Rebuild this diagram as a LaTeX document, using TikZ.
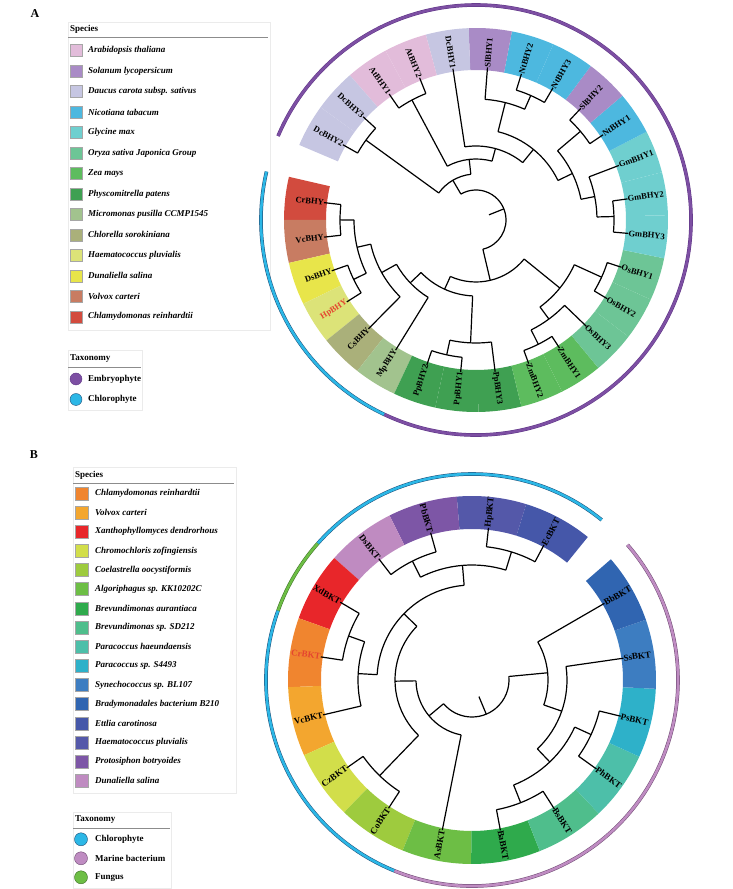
\documentclass[tikz,border=0pt]{standalone}
\usepackage{fontspec}
\setmainfont{Liberation Serif}

% species colours, tree A
\definecolor{araA}{HTML}{E2BCDA}
\definecolor{solA}{HTML}{A98BC6}
\definecolor{dauA}{HTML}{C6C6E2}
\definecolor{nicA}{HTML}{4DB8DF}
\definecolor{glyA}{HTML}{6FCFCF}
\definecolor{oryA}{HTML}{6DC596}
\definecolor{zeaA}{HTML}{5DBC5E}
\definecolor{phyA}{HTML}{3FA052}
\definecolor{micA}{HTML}{A2C38E}
\definecolor{cloA}{HTML}{AAB07A}
\definecolor{haeA}{HTML}{DCE378}
\definecolor{dunA}{HTML}{E8E54A}
\definecolor{volA}{HTML}{C87C62}
\definecolor{chlA}{HTML}{D24B3E}
\definecolor{embryo}{HTML}{7D4FA3}
\definecolor{embryoD}{HTML}{5E3585}
\definecolor{chloro}{HTML}{2CB7E6}
\definecolor{chloroD}{HTML}{1F4F78}
% species colours, tree B
\definecolor{chlB}{HTML}{F0852F}
\definecolor{volB}{HTML}{F3A62F}
\definecolor{xanB}{HTML}{E8262A}
\definecolor{chrB}{HTML}{D2DE4A}
\definecolor{coeB}{HTML}{9ECB3E}
\definecolor{algB}{HTML}{6DBE45}
\definecolor{bauB}{HTML}{2FAA4C}
\definecolor{bspB}{HTML}{4FBE8C}
\definecolor{phaB}{HTML}{4DBFA9}
\definecolor{pspB}{HTML}{2EB1C9}
\definecolor{synB}{HTML}{3D7DC1}
\definecolor{braB}{HTML}{3065B1}
\definecolor{ettB}{HTML}{4557A9}
\definecolor{haeB}{HTML}{5458A9}
\definecolor{proB}{HTML}{7D56A6}
\definecolor{dunB}{HTML}{BF8BC1}
\definecolor{marine}{HTML}{BF8CC2}
\definecolor{marineD}{HTML}{6E4A72}
\definecolor{fungus}{HTML}{6DBE45}
\definecolor{fungusD}{HTML}{3C6E25}
\definecolor{hired}{HTML}{E5452F}

\tikzset{
  branch/.style={line width=1.2pt, black},
  leaflabA/.style={font=\bfseries\fontsize{8.5}{9}\selectfont, inner sep=0pt},
  leaflabB/.style={font=\bfseries\fontsize{9}{10}\selectfont, inner sep=0pt},
  legframe/.style={draw=black!8, line width=0.5pt},
  legrule/.style={draw=black!45, line width=0.9pt},
  leghead/.style={font=\bfseries\fontsize{9}{10}\selectfont, anchor=west, inner sep=0pt},
  legsp/.style={font=\bfseries\itshape\fontsize{9}{10}\selectfont, anchor=west, inner sep=0pt},
  legtax/.style={font=\bfseries\fontsize{9}{10}\selectfont, anchor=west, inner sep=0pt},
  legsq/.style={draw=black!35, line width=0.4pt},
  taxarc/.style={line width=0.5pt, double distance=2.6pt},
}

% annular sector: from angle, to angle, inner r, outer r, colour
\newcommand{\sector}[5]{\fill[#5] (#1:#3) arc[start angle=#1, end angle=#2, radius=#3pt] -- (#2:#4) arc[start angle=#2, end angle=#1, radius=#4pt] -- cycle;}
% clade: from angle, to angle, radius, own angle, parent radius
\newcommand{\clade}[5]{\draw[branch] (#1:#3) arc[start angle=#1, end angle=#2, radius=#3pt];
  \draw[branch] (#4:#3) -- (#4:#5);}
% leaves: angle, parent radius, name, text
\newcommand{\leafAL}[4]{\node[leaflabA, anchor=east, rotate=#1-180] (#3) at (#1:153) {#4};
  \draw[branch] (#3.east) -- (#1:#2);}
\newcommand{\leafAR}[4]{\node[leaflabA, anchor=west, rotate=#1] (#3) at (#1:153) {#4};
  \draw[branch] (#3.west) -- (#1:#2);}
\newcommand{\leafBL}[4]{\node[leaflabB, anchor=east, rotate=#1-180] (#3) at (#1:153) {#4};
  \draw[branch] (#3.east) -- (#1:#2);}
\newcommand{\leafBR}[4]{\node[leaflabB, anchor=west, rotate=#1] (#3) at (#1:153) {#4};
  \draw[branch] (#3.west) -- (#1:#2);}

\begin{document}
\begin{tikzpicture}[x=1pt, y=1pt]
\useasboundingbox (0,0) rectangle (732,889);

%% ---------- panel A ----------
\node[font=\bfseries\fontsize{12}{12}\selectfont] (panA) at (35,875) {A};

% species legend
\draw[legframe] (68,559) rectangle (270,867);
\node[leghead] (spHeadA) at (70,860) {Species};
\draw[legrule] (68,851.5) -- (268,851.5);
\draw[legsq, fill=araA] (70,832.3) rectangle ++(12,12);
\node[legsp] (legAra) at (88,838.3) {Arabidopsis thaliana};
\draw[legsq, fill=solA] (70,811.8) rectangle ++(12,12);
\node[legsp] (legSol) at (88,817.8) {Solanum lycopersicum};
\draw[legsq, fill=dauA] (70,791.4) rectangle ++(12,12);
\node[legsp] (legDau) at (88,797.4) {Daucus carota subsp. sativus};
\draw[legsq, fill=nicA] (70,770.9) rectangle ++(12,12);
\node[legsp] (legNic) at (88,776.9) {Nicotiana tabacum};
\draw[legsq, fill=glyA] (70,750.4) rectangle ++(12,12);
\node[legsp] (legGly) at (88,756.4) {Glycine max};
\draw[legsq, fill=oryA] (70,729.9) rectangle ++(12,12);
\node[legsp] (legOry) at (88,735.9) {Oryza sativa Japonica Group};
\draw[legsq, fill=zeaA] (70,709.5) rectangle ++(12,12);
\node[legsp] (legZea) at (88,715.5) {Zea mays};
\draw[legsq, fill=phyA] (70,689.0) rectangle ++(12,12);
\node[legsp] (legPhy) at (88,695.0) {Physcomitrella patens};
\draw[legsq, fill=micA] (70,668.5) rectangle ++(12,12);
\node[legsp] (legMic) at (88,674.5) {Micromonas pusilla CCMP1545};
\draw[legsq, fill=cloA] (70,648.1) rectangle ++(12,12);
\node[legsp] (legClo) at (88,654.1) {Chlorella sorokiniana};
\draw[legsq, fill=haeA] (70,627.6) rectangle ++(12,12);
\node[legsp] (legHaeA) at (88,633.6) {Haematococcus pluvialis};
\draw[legsq, fill=dunA] (70,607.1) rectangle ++(12,12);
\node[legsp] (legDunA) at (88,613.1) {Dunaliella salina};
\draw[legsq, fill=volA] (70,586.7) rectangle ++(12,12);
\node[legsp] (legVolA) at (88,592.7) {Volvox carteri};
\draw[legsq, fill=chlA] (70,566.2) rectangle ++(12,12);
\node[legsp] (legChlA) at (88,572.2) {Chlamydomonas reinhardtii};

% taxonomy legend
\draw[legframe] (68,479) rectangle (142,539);
\node[leghead] (taxHeadA) at (70,530) {Taxonomy};
\draw[legrule] (68,522) -- (141,522);
\draw[fill=embryo, draw=embryoD, line width=0.4pt] (76,510) circle (6);
\node[legtax] (legEmb) at (88,510) {Embryophyte};
\draw[fill=chloro, draw=chloroD, line width=0.4pt] (76,489.5) circle (6);
\node[legtax] (legChloA) at (88,489.5) {Chlorophyte};

\begin{scope}[shift={(476,669)}]
% coloured ring
\sector{167.00}{179.96}{150}{192}{chlA}
\sector{179.96}{192.93}{150}{192}{volA}
\sector{192.93}{205.89}{150}{192}{dunA}
\sector{205.89}{218.85}{150}{192}{haeA}
\sector{218.85}{231.81}{150}{192}{cloA}
\sector{231.81}{244.78}{150}{192}{micA}
\sector{244.78}{257.74}{150}{192}{phyA}
\sector{257.74}{270.70}{150}{192}{phyA}
\sector{270.70}{283.67}{150}{192}{phyA}
\sector{283.67}{296.63}{150}{192}{zeaA}
\sector{296.63}{309.59}{150}{192}{zeaA}
\sector{309.59}{322.56}{150}{192}{oryA}
\sector{322.56}{335.52}{150}{192}{oryA}
\sector{335.52}{348.48}{150}{192}{oryA}
\sector{348.48}{361.44}{150}{192}{glyA}
\sector{361.44}{374.41}{150}{192}{glyA}
\sector{374.41}{387.37}{150}{192}{glyA}
\sector{387.37}{400.33}{150}{192}{nicA}
\sector{400.33}{413.30}{150}{192}{solA}
\sector{413.30}{426.26}{150}{192}{nicA}
\sector{426.26}{439.22}{150}{192}{nicA}
\sector{439.22}{452.19}{150}{192}{solA}
\sector{452.19}{465.15}{150}{192}{dauA}
\sector{465.15}{478.11}{150}{192}{araA}
\sector{478.11}{491.07}{150}{192}{araA}
\sector{491.07}{504.04}{150}{192}{dauA}
\sector{504.04}{517.00}{150}{192}{dauA}

% taxonomy arcs
\draw[taxarc, draw=chloroD, double=chloro] (167:215) arc[start angle=167, end angle=244.78, radius=215pt];
\draw[taxarc, draw=embryoD, double=embryo] (244.78:215) arc[start angle=244.78, end angle=517, radius=215pt];

% tree
\clade{173.48}{186.44}{136}{179.96}{122}
\clade{199.41}{212.37}{136}{205.89}{122}
\clade{179.96}{205.89}{122}{192.93}{108}
\clade{192.93}{225.33}{108}{209.13}{91}
\clade{209.13}{238.30}{91}{223.71}{76}
\clade{251.26}{264.22}{138}{257.74}{123}
\clade{257.74}{277.19}{123}{267.46}{76}
\clade{223.71}{267.46}{76}{245.59}{62}
\clade{290.15}{303.11}{139}{296.63}{123}
\clade{296.63}{316.07}{123}{306.35}{108}
\clade{329.04}{342.00}{138}{335.52}{108}
\clade{306.35}{335.52}{108}{320.94}{62}
\clade{245.59}{320.94}{62}{283.26}{30}
\clade{354.96}{367.93}{138}{361.44}{121}
\clade{361.44}{380.89}{121}{371.17}{107}
\clade{393.85}{406.81}{137}{400.33}{107}
\clade{371.17}{400.33}{107}{385.75}{91}
\clade{419.78}{432.74}{136}{426.26}{121}
\clade{426.26}{445.70}{121}{435.98}{91}
\clade{385.75}{435.98}{91}{410.86}{74}
\clade{410.86}{458.67}{74}{434.77}{61}
\clade{471.63}{484.59}{136}{478.11}{61}
\clade{434.77}{478.11}{61}{456.44}{46}
\clade{497.56}{510.52}{136}{504.04}{46}
\clade{456.44}{504.04}{46}{480.24}{30}
\clade{283.26}{480.24}{30}{381.75}{14}

% leaves
\leafAL{173.48}{136}{crbhy}{CrBHY}
\leafAL{186.44}{136}{vcbhy}{VcBHY}
\leafAL{199.41}{136}{dsbhy}{DsBHY}
\leafAL{212.37}{136}{hpbhy}{\color{hired}HpBHY}
\leafAL{225.33}{108}{csbhy}{CsBHY}
\leafAL{238.30}{91}{mpbhy}{MpBHY}
\leafAL{251.26}{138}{ppbhyB}{PpBHY2}
\leafAL{264.22}{138}{ppbhyA}{PpBHY1}
\leafAR{277.19}{123}{ppbhyC}{PpBHY3}
\leafAR{290.15}{139}{zmbhyB}{ZmBHY2}
\leafAR{303.11}{139}{zmbhyA}{ZmBHY1}
\leafAR{316.07}{123}{osbhyC}{OsBHY3}
\leafAR{329.04}{138}{osbhyB}{OsBHY2}
\leafAR{342.00}{138}{osbhyA}{OsBHY1}
\leafAR{354.96}{138}{gmbhyC}{GmBHY3}
\leafAR{367.93}{138}{gmbhyB}{GmBHY2}
\leafAR{380.89}{121}{gmbhyA}{GmBHY1}
\leafAR{393.85}{137}{ntbhyA}{NtBHY1}
\leafAR{406.81}{137}{slbhyB}{SlBHY2}
\leafAR{419.78}{136}{ntbhyC}{NtBHY3}
\leafAR{432.74}{136}{ntbhyB}{NtBHY2}
\leafAR{445.70}{121}{slbhyA}{SlBHY1}
\leafAL{458.67}{74}{dcbhyA}{DcBHY1}
\leafAL{471.63}{136}{atbhyB}{AtBHY2}
\leafAL{484.59}{136}{atbhyA}{AtBHY1}
\leafAL{497.56}{136}{dcbhyC}{DcBHY3}
\leafAL{510.52}{136}{dcbhyB}{DcBHY2}
\end{scope}

%% ---------- panel B ----------
\node[font=\bfseries\fontsize{12}{12}\selectfont] (panB) at (34,434) {B};

% species legend
\draw[legframe] (73,96) rectangle (236,422);
\node[leghead] (spHeadB) at (75,414) {Species};
\draw[legrule] (73,406) -- (234,406);
\draw[legsq, fill=chlB] (75,389.2) rectangle ++(13,13);
\node[legsp] (legChlB) at (95,395.7) {Chlamydomonas reinhardtii};
\draw[legsq, fill=volB] (75,370.0) rectangle ++(13,13);
\node[legsp] (legVolB) at (95,376.5) {Volvox carteri};
\draw[legsq, fill=xanB] (75,350.9) rectangle ++(13,13);
\node[legsp] (legXan) at (95,357.4) {Xanthophyllomyces dendrorhous};
\draw[legsq, fill=chrB] (75,331.7) rectangle ++(13,13);
\node[legsp] (legChr) at (95,338.2) {Chromochloris zofingiensis};
\draw[legsq, fill=coeB] (75,312.5) rectangle ++(13,13);
\node[legsp] (legCoe) at (95,319.0) {Coelastrella oocystiformis};
\draw[legsq, fill=algB] (75,293.4) rectangle ++(13,13);
\node[legsp] (legAlg) at (95,299.9) {Algoriphagus sp. KK10202C};
\draw[legsq, fill=bauB] (75,274.2) rectangle ++(13,13);
\node[legsp] (legBau) at (95,280.7) {Brevundimonas aurantiaca};
\draw[legsq, fill=bspB] (75,255.0) rectangle ++(13,13);
\node[legsp] (legBsp) at (95,261.5) {Brevundimonas sp. SD212};
\draw[legsq, fill=phaB] (75,235.8) rectangle ++(13,13);
\node[legsp] (legPha) at (95,242.3) {Paracoccus haeundaensis};
\draw[legsq, fill=pspB] (75,216.7) rectangle ++(13,13);
\node[legsp] (legPsp) at (95,223.2) {Paracoccus sp. S4493};
\draw[legsq, fill=synB] (75,197.5) rectangle ++(13,13);
\node[legsp] (legSyn) at (95,204.0) {Synechococcus sp. BL107};
\draw[legsq, fill=braB] (75,178.3) rectangle ++(13,13);
\node[legsp] (legBra) at (95,184.8) {Bradymonadales bacterium B210};
\draw[legsq, fill=ettB] (75,159.2) rectangle ++(13,13);
\node[legsp] (legEtt) at (95,165.7) {Ettlia carotinosa};
\draw[legsq, fill=haeB] (75,140.0) rectangle ++(13,13);
\node[legsp] (legHaeB) at (95,146.5) {Haematococcus pluvialis};
\draw[legsq, fill=proB] (75,120.8) rectangle ++(13,13);
\node[legsp] (legPro) at (95,127.3) {Protosiphon botryoides};
\draw[legsq, fill=dunB] (75,101.7) rectangle ++(13,13);
\node[legsp] (legDunB) at (95,108.2) {Dunaliella salina};

% taxonomy legend
\draw[legframe] (73,1) rectangle (171,76.3);
\node[leghead] (taxHeadB) at (75,69) {Taxonomy};
\draw[legrule] (73,60.7) -- (170,60.7);
\draw[fill=chloro, draw=chloroD, line width=0.4pt] (81,49.7) circle (6.5);
\node[legtax] (legChloB) at (95,49.7) {Chlorophyte};
\draw[fill=marine, draw=marineD, line width=0.4pt] (81,30.7) circle (6.5);
\node[legtax] (legMar) at (95,30.7) {Marine bacterium};
\draw[fill=fungus, draw=fungusD, line width=0.4pt] (81,11.7) circle (6.5);
\node[legtax] (legFun) at (95,11.7) {Fungus};

\begin{scope}[shift={(472,209)}]
% coloured ring
\sector{51.000}{72.875}{151}{184}{ettB}
\sector{72.875}{94.750}{151}{184}{haeB}
\sector{94.750}{116.625}{151}{184}{proB}
\sector{116.625}{138.500}{151}{184}{dunB}
\sector{138.500}{160.375}{151}{184}{xanB}
\sector{160.375}{182.250}{151}{184}{chlB}
\sector{182.250}{204.125}{151}{184}{volB}
\sector{204.125}{226.000}{151}{184}{chrB}
\sector{226.000}{247.875}{151}{184}{coeB}
\sector{247.875}{269.750}{151}{184}{algB}
\sector{269.750}{291.625}{151}{184}{bauB}
\sector{291.625}{313.500}{151}{184}{bspB}
\sector{313.500}{335.375}{151}{184}{phaB}
\sector{335.375}{357.250}{151}{184}{pspB}
\sector{357.250}{379.125}{151}{184}{synB}
\sector{379.125}{401.000}{151}{184}{braB}

% taxonomy arcs
\draw[taxarc, draw=chloroD, double=chloro] (51:206) arc[start angle=51, end angle=138.5, radius=206pt];
\draw[taxarc, draw=fungusD, double=fungus] (138.5:206) arc[start angle=138.5, end angle=160.375, radius=206pt];
\draw[taxarc, draw=chloroD, double=chloro] (160.375:206) arc[start angle=160.375, end angle=247.875, radius=206pt];
\draw[taxarc, draw=marineD, double=marine] (247.875:206) arc[start angle=247.875, end angle=401, radius=206pt];

% tree
\clade{61.94}{83.81}{134}{72.88}{115}
\clade{105.69}{127.56}{133}{116.63}{115}
\clade{72.88}{116.63}{115}{94.75}{95}
\clade{149.44}{171.31}{131}{160.38}{114}
\clade{160.38}{193.19}{114}{176.78}{95}
\clade{94.75}{176.78}{95}{135.77}{77}
\clade{215.06}{236.94}{133}{226.00}{77}
\clade{135.77}{226.00}{77}{180.88}{56}
\clade{180.88}{258.81}{56}{219.85}{37}
\clade{280.69}{302.56}{132}{291.63}{113}
\clade{324.44}{346.31}{131}{335.38}{113}
\clade{291.63}{335.38}{113}{313.50}{95}
\clade{313.50}{368.19}{95}{340.85}{76}
\clade{340.85}{390.06}{76}{365.45}{37}
\clade{219.85}{365.45}{37}{292.65}{18}

% leaves
\leafBR{61.94}{134}{ecbkt}{EcBKT}
\leafBR{83.81}{134}{hpbkt}{HpBKT}
\leafBL{105.69}{133}{pbbkt}{PbBKT}
\leafBL{127.56}{133}{dsbkt}{DsBKT}
\leafBL{149.44}{131}{xdbkt}{XdBKT}
\leafBL{171.31}{131}{crbkt}{\color{hired}CrBKT}
\leafBL{193.19}{114}{vcbkt}{VcBKT}
\leafBL{215.06}{133}{czbkt}{CzBKT}
\leafBL{236.94}{133}{cobkt}{CoBKT}
\leafBL{258.81}{56}{asbkt}{AsBKT}
\leafBR{280.69}{132}{babkt}{BaBKT}
\leafBR{302.56}{132}{bsbkt}{BsBKT}
\leafBR{324.44}{131}{phbkt}{PhBKT}
\leafBR{346.31}{131}{psbkt}{PsBKT}
\leafBR{368.19}{95}{ssbkt}{SsBKT}
\leafBR{390.06}{76}{bbbkt}{BbBKT}
\end{scope}

\end{tikzpicture}
\end{document}
